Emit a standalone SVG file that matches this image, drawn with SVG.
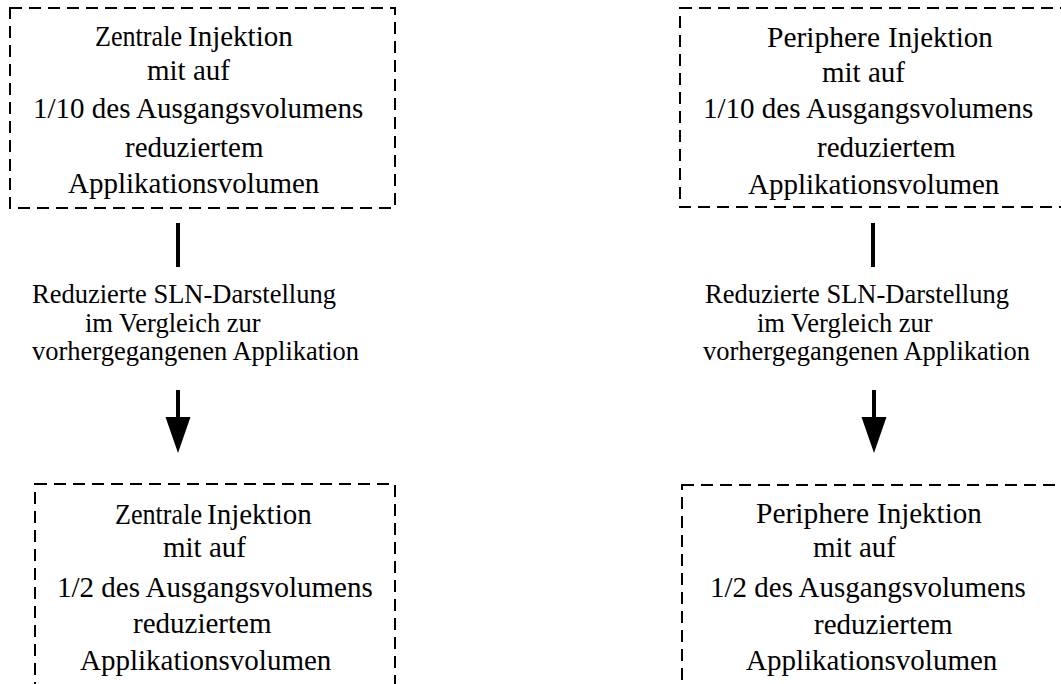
<svg xmlns="http://www.w3.org/2000/svg" width="1061" height="684" viewBox="0 0 1061 684">
<style>
.box{fill:none;stroke:#000;stroke-width:2;stroke-dasharray:12 7}
.t{font-family:"Liberation Serif","Times New Roman",serif;font-size:29px;fill:#000}
.d{font-family:"Liberation Serif","Times New Roman",serif;font-size:26.5px;fill:#000}
.c{stroke:#000;stroke-width:4;fill:none}
.h{fill:#000;stroke:none}
</style>
<rect width="1061" height="684" fill="#fff"/>
<g id="box-tl">
<rect class="box" x="10" y="8" width="385" height="200"/>
<text class="t" x="95" y="46" textLength="87" lengthAdjust="spacingAndGlyphs">Zentrale</text>
<text class="t" x="188" y="46">Injektion</text>
<text class="t" x="147" y="80">mit auf</text>
<text class="t" x="33" y="118">1/10 des Ausgangsvolumens</text>
<text class="t" x="125" y="157">reduziertem</text>
<text class="t" x="68" y="193">Applikationsvolumen</text>
</g>
<g id="box-tr">
<rect class="box" x="680" y="8" width="400" height="199"/>
<text class="t" x="767" y="47" textLength="113" lengthAdjust="spacingAndGlyphs">Periphere</text>
<text class="t" x="888" y="47">Injektion</text>
<text class="t" x="822" y="82">mit auf</text>
<text class="t" x="703" y="118">1/10 des Ausgangsvolumens</text>
<text class="t" x="817" y="157">reduziertem</text>
<text class="t" x="748" y="194">Applikationsvolumen</text>
</g>
<g id="label-l">
<text class="d" x="32" y="303">Reduzierte SLN-Darstellung</text>
<text class="d" x="85" y="332">im Vergleich zur</text>
<text class="d" x="32" y="360">vorhergegangenen Applikation</text>
</g>
<g id="label-r">
<text class="d" x="705" y="303">Reduzierte SLN-Darstellung</text>
<text class="d" x="757" y="332">im Vergleich zur</text>
<text class="d" x="703" y="360">vorhergegangenen Applikation</text>
</g>
<g id="box-bl">
<rect class="box" x="35" y="484" width="360" height="220"/>
<text class="t" x="115" y="524" textLength="87" lengthAdjust="spacingAndGlyphs">Zentrale</text>
<text class="t" x="207" y="524">Injektion</text>
<text class="t" x="163" y="557">mit auf</text>
<text class="t" x="57" y="597">1/2 des Ausgangsvolumens</text>
<text class="t" x="133" y="633">reduziertem</text>
<text class="t" x="80" y="670">Applikationsvolumen</text>
</g>
<g id="box-br">
<rect class="box" x="682" y="485" width="400" height="220"/>
<text class="t" x="756" y="523" textLength="113" lengthAdjust="spacingAndGlyphs">Periphere</text>
<text class="t" x="877" y="523">Injektion</text>
<text class="t" x="813" y="557">mit auf</text>
<text class="t" x="710" y="597">1/2 des Ausgangsvolumens</text>
<text class="t" x="814" y="634">reduziertem</text>
<text class="t" x="746" y="670">Applikationsvolumen</text>
</g>
<g id="connectors">
<line class="c" x1="178" y1="223" x2="178" y2="267"/>
<line class="c" x1="178" y1="390" x2="178" y2="420"/>
<polygon class="h" points="165.5,417 190.5,417 178,453"/>
<line class="c" x1="873" y1="223" x2="873" y2="267"/>
<line class="c" x1="874" y1="390" x2="874" y2="420"/>
<polygon class="h" points="861.5,417 886.5,417 874,453"/>
</g>
</svg>
